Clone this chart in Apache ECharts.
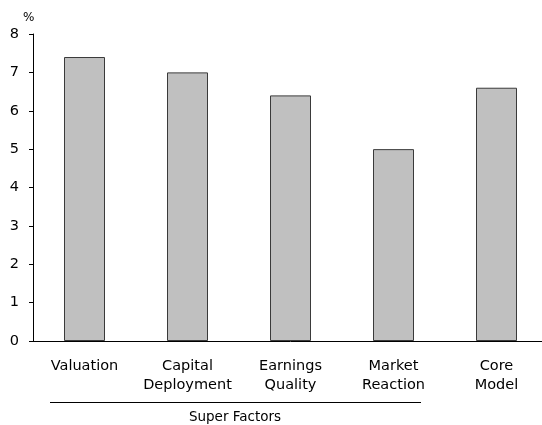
<!DOCTYPE html>
<html><head><meta charset="utf-8">
<script src="https://cdn.jsdelivr.net/npm/echarts@6/dist/echarts.min.js"></script>
<style>html,body{margin:0;padding:0;background:#fff;overflow:hidden}#c{width:548px;height:425px}</style>
</head><body><div id="c"></div>
<script>
const categories = ['Valuation', 'Capital\nDeployment', 'Earnings\nQuality', 'Market\nReaction', 'Core\nModel'];
const values = [7.4, 7.0, 6.4, 5.0, 6.6];
const yTicks = [0, 1, 2, 3, 4, 5, 6, 7, 8];
const groupLabel = 'Super Factors';
const unitLabel = '%';

const chart = echarts.init(document.getElementById('c'), null, {renderer: 'canvas'});
const font = 'DejaVu Sans';
chart.setOption({
  animation: false,
  grid: {left: 33, top: 34, right: 0, bottom: 84, containLabel: false},
  xAxis: {
    type: 'category', data: categories,
    axisLine: {lineStyle: {color: '#000', width: 1}},
    axisTick: {show: false},
    axisLabel: {color: '#000', fontFamily: font, fontSize: 14.5, lineHeight: 19.5, margin: 15, interval: 0}
  },
  yAxis: {
    type: 'value', min: yTicks[0], max: yTicks[yTicks.length - 1], interval: 1,
    splitLine: {show: false},
    axisLine: {show: true, lineStyle: {color: '#000', width: 1}},
    axisTick: {show: true, length: 4, lineStyle: {color: '#000'}},
    axisLabel: {color: '#000', fontFamily: font, fontSize: 14.5, margin: 14}
  },
  series: [{
    type: 'bar', data: values, barWidth: 41,
    itemStyle: {color: '#c0c0c0', borderColor: '#3a3a3a', borderWidth: 1}
  }],
  graphic: [
    {type: 'text', left: 23, top: 12, style: {text: unitLabel, fill: '#000', font: '12px ' + font}},
    {type: 'line', shape: {x1: 50, y1: 402.5, x2: 421, y2: 402.5}, style: {stroke: '#000', lineWidth: 1}},
    {type: 'text', x: 235, y: 417, style: {text: groupLabel, fill: '#000', font: '13.5px ' + font, align: 'center', verticalAlign: 'middle'}}
  ]
});
</script></body></html>
